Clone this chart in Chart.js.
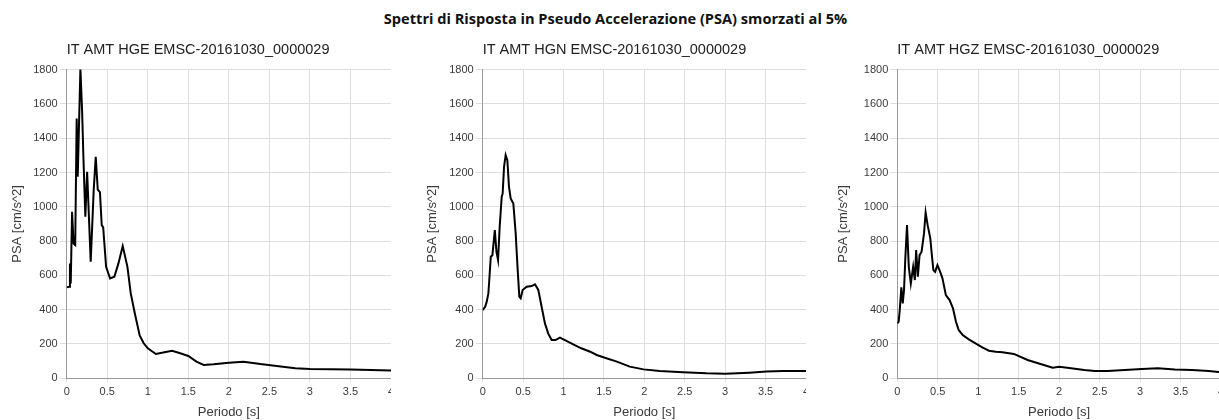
<!DOCTYPE html>
<html>
<head>
<meta charset="utf-8">
<script src="https://cdn.jsdelivr.net/npm/chart.js@4/dist/chart.umd.min.js"></script>
<style>
  body { margin: 0; width: 1219px; height: 420px; overflow: hidden; background: #fff; position: relative; }
  #main-title { position: absolute; left: 0; top: 8px; width: 1231px; line-height: 20px; text-align: center;
    font-family: "Open Sans", sans-serif; font-weight: bold; font-size: 14.6px; color: #111; white-space: nowrap; }
  canvas { position: absolute; top: 30px; }
</style>
</head>
<body>
<div id="main-title">Spettri di Risposta in Pseudo Accelerazione (PSA) smorzati al 5%</div>
<canvas id="graph-hge" width="384" height="390" style="left:7px"></canvas>
<canvas id="graph-hgn" width="384" height="390" style="left:422px"></canvas>
<canvas id="graph-hgz" width="388" height="390" style="left:833px"></canvas>
<script>
// titoli dei grafici
const TITLES = [
  'IT AMT HGE EMSC-20161030_0000029',
  'IT AMT HGN EMSC-20161030_0000029',
  'IT AMT HGZ EMSC-20161030_0000029'
];

// assi
const X_TITLE = 'Periodo [s]';
const Y_TITLE = 'PSA [cm/s^2]';
const X_TICKS = [0, 0.5, 1, 1.5, 2, 2.5, 3, 3.5, 4];
const Y_TICKS = [0, 200, 400, 600, 800, 1000, 1200, 1400, 1600, 1800];

// HGE
const hgePeriod = [0, 0.03, 0.04, 0.05, 0.066, 0.085, 0.105, 0.123, 0.136, 0.169, 0.19, 0.206, 0.23, 0.252,
  0.296, 0.333, 0.358, 0.383, 0.41, 0.432, 0.45, 0.486, 0.535, 0.588, 0.638, 0.691, 0.749, 0.79, 0.84, 0.9,
  0.95, 1.0, 1.1, 1.19, 1.3, 1.4, 1.5, 1.6, 1.69, 1.81, 2.0, 2.18, 2.39, 2.59, 2.82, 3.0, 3.5, 4.0];
const hgePsa = [530, 534, 670, 553, 971, 786, 777, 1515, 1175, 1806, 1560, 1290, 942, 1204,
  680, 1097, 1291, 1100, 1085, 893, 880, 650, 582, 592, 670, 771, 650, 495, 379, 250,
  204, 175, 142, 150, 161, 146, 130, 97, 78, 82, 91, 97, 83, 72, 58, 54, 52, 45];

// HGN
const hgnPeriod = [0, 0.03, 0.05, 0.07, 0.08, 0.1, 0.12, 0.15, 0.17, 0.19, 0.21, 0.235, 0.247, 0.264, 0.284,
  0.305, 0.325, 0.346, 0.379, 0.408, 0.433, 0.453, 0.47, 0.494, 0.544, 0.605, 0.647, 0.688, 0.729, 0.77, 0.81,
  0.853, 0.9, 0.956, 1.017, 1.12, 1.22, 1.33, 1.41, 1.53, 1.66, 1.82, 1.99, 2.19, 2.48, 2.77, 3.0, 3.3, 3.51,
  3.72, 4.0];
const hgnPsa = [398, 417, 447, 495, 563, 709, 718, 864, 738, 689, 883, 1058, 1078, 1233, 1301,
  1272, 1117, 1049, 1019, 845, 631, 476, 466, 515, 534, 538, 548, 515, 417, 320, 262,
  223, 223, 237, 223, 198, 175, 155, 136, 117, 97, 68, 52, 43, 35, 29, 27, 33, 39,
  43, 43];

// HGZ
const hgzPeriod = [0, 0.017, 0.03, 0.05, 0.067, 0.083, 0.1, 0.12, 0.142, 0.167, 0.196, 0.217, 0.233, 0.254,
  0.275, 0.3, 0.33, 0.35, 0.375, 0.408, 0.425, 0.446, 0.467, 0.496, 0.53, 0.558, 0.6, 0.646, 0.688, 0.725,
  0.758, 0.808, 0.883, 0.967, 1.05, 1.133, 1.217, 1.3, 1.44, 1.61, 1.77, 1.92, 2.0, 2.1, 2.31, 2.44, 2.6,
  2.81, 3.02, 3.22, 3.43, 3.64, 3.85, 4.0];
const hgzPsa = [320, 330, 398, 530, 437, 515, 709, 893, 650, 553, 650, 573, 748, 592,
  718, 738, 845, 967, 893, 816, 728, 631, 621, 660, 621, 583, 485, 456, 408, 330,
  282, 252, 227, 204, 180, 161, 155, 152, 142, 107, 83, 62, 68, 62, 49, 43, 43,
  49, 54, 58, 52, 49, 43, 35];

// larghezza asse Y di ogni grafico
const Y_AXIS_WIDTHS = [59.7, 60.7, 64.3];

/*
  punti {x, y} per Chart.js
*/
function toPoints(periods, values) {
  let points = [];
  for (let i = 0; i < periods.length; i++) {
    points.push({x: periods[i], y: values[i]});
  }
  return points;
}

/*
  disegno grafico
*/
function drawGraph(canvasId, title, periods, values, yAxisWidth) {
  return new Chart(document.getElementById(canvasId), {
    type: 'line',
    data: {
      datasets: [{
        data: toPoints(periods, values),
        borderColor: '#000',
        borderWidth: 2,
        pointRadius: 0,
        fill: false,
        tension: 0
      }]
    },
    options: {
      responsive: false,
      animation: false,
      layout: { padding: 0 },
      plugins: {
        legend: { display: false },
        tooltip: { enabled: false },
        title: {
          display: true,
          text: title,
          fullSize: false,
          align: 'start',
          color: '#222',
          font: { family: '"Liberation Sans", Arial, sans-serif', size: 14.5, weight: 'normal', lineHeight: 1.2 },
          padding: { top: 11.6, bottom: 10.6 }
        }
      },
      scales: {
        x: {
          type: 'linear',
          min: X_TICKS[0],
          max: X_TICKS[X_TICKS.length - 1],
          afterBuildTicks: function(scale) {
            scale.ticks = X_TICKS.map(function(v) { return {value: v}; });
          },
          afterFit: function(scale) {
            scale.height = 41.7;
            scale.paddingLeft = 0;
            scale.paddingRight = 0;
          },
          ticks: {
            color: '#3a3a3a',
            padding: 3,
            maxRotation: 0,
            autoSkip: false,
            font: { family: '"Liberation Sans", Arial, sans-serif', size: 11 },
            callback: function(v) { return String(v); }
          },
          grid: { color: '#dedede', tickLength: 4, drawTicks: true },
          border: { color: '#9a9a9a' },
          title: {
            display: true,
            text: X_TITLE,
            color: '#3a3a3a',
            padding: { top: 0, bottom: 0 },
            font: { family: '"Liberation Sans", Arial, sans-serif', size: 13 }
          }
        },
        y: {
          type: 'linear',
          min: Y_TICKS[0],
          max: Y_TICKS[Y_TICKS.length - 1],
          afterBuildTicks: function(scale) {
            scale.ticks = Y_TICKS.map(function(v) { return {value: v}; });
          },
          afterFit: function(scale) {
            scale.width = yAxisWidth;
            scale.paddingTop = 0;
            scale.paddingBottom = 0;
          },
          ticks: {
            color: '#3a3a3a',
            padding: 2,
            autoSkip: false,
            font: { family: '"Liberation Sans", Arial, sans-serif', size: 11 },
            callback: function(v) { return String(v); }
          },
          grid: { color: '#dedede', tickLength: 7, drawTicks: true },
          border: { color: '#9a9a9a' },
          title: {
            display: true,
            text: Y_TITLE,
            color: '#3a3a3a',
            padding: { top: 3, bottom: 0 },
            font: { family: '"Liberation Sans", Arial, sans-serif', size: 13 }
          }
        }
      }
    }
  });
}

drawGraph('graph-hge', TITLES[0], hgePeriod, hgePsa, Y_AXIS_WIDTHS[0]);
drawGraph('graph-hgn', TITLES[1], hgnPeriod, hgnPsa, Y_AXIS_WIDTHS[1]);
drawGraph('graph-hgz', TITLES[2], hgzPeriod, hgzPsa, Y_AXIS_WIDTHS[2]);
</script>
</body>
</html>
